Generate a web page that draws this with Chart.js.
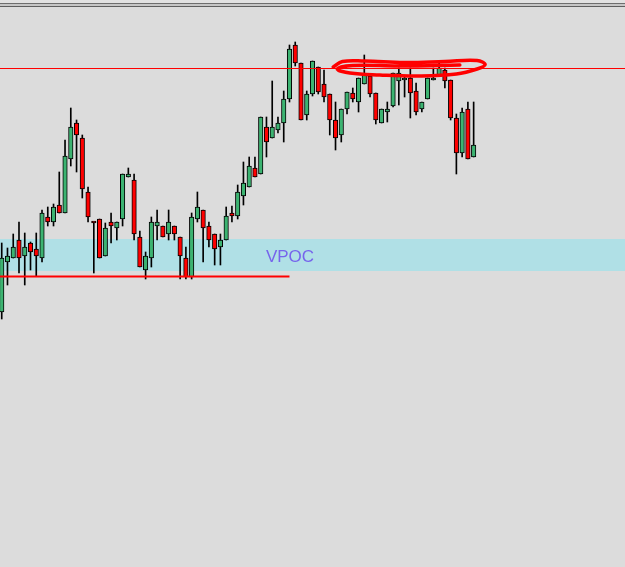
<!DOCTYPE html>
<html>
<head>
<meta charset="utf-8">
<title>VPOC</title>
<script src="https://cdn.jsdelivr.net/npm/chart.js@4.4.1/dist/chart.umd.min.js"></script>
<style>
    html, body { margin: 0; padding: 0; background: #dcdcdc; overflow: hidden; }
    #wrap { position: relative; width: 625px; height: 567px; }
    #frame {
        position: absolute; left: 0; top: 0; width: 625px; height: 7px;
        background: linear-gradient(to bottom, #e2e2e2 0 3px, #6e6e6e 3px 4px, #c6c6c6 4px 6px, #5e5e5e 6px 7px);
    }
</style>
</head>
<body>
<div id="wrap">
    <canvas id="chartCandles" width="625" height="567"></canvas>
    <div id="frame"></div>
</div>
<script>
//  Candles (price)

const opens = [18, 68, 72, 90, 74, 87, 81, 72, 113, 108, 125, 117, 171, 207, 192, 138, 108, 111, 74, 108,
    102, 111, 153, 150, 93, 60, 72, 104, 104, 96, 104, 93, 72, 53, 111, 120, 104, 96, 83, 90,
    117, 114, 134, 143, 162, 156, 203, 192, 200, 207, 231, 285, 267, 215, 236, 263, 246, 236, 210, 195,
    221, 237, 228, 246, 254, 237, 207, 218, 224, 249, 252, 252, 239, 221, 231, 250, 255, 260, 250, 212,
    177, 221, 173];
const highs = [87, 82, 96, 108, 97, 88, 97, 120, 123, 126, 158, 190, 222, 210, 195, 143, 108, 111, 107, 117,
    108, 156, 162, 156, 99, 78, 113, 120, 104, 120, 104, 93, 83, 117, 138, 120, 108, 96, 96, 123,
    124, 145, 168, 173, 173, 213, 213, 249, 213, 239, 285, 288, 267, 239, 269, 263, 260, 236, 228, 221,
    238, 242, 252, 275, 254, 237, 221, 228, 257, 262, 254, 262, 247, 228, 252, 262, 267, 262, 250, 216,
    222, 228, 228];
const lows = [11, 45, 72, 57, 45, 60, 54, 68, 104, 104, 117, 117, 164, 158, 132, 108, 57, 72, 74, 87,
    90, 104, 153, 90, 63, 51, 63, 90, 93, 90, 90, 51, 51, 51, 108, 68, 83, 65, 65, 90,
    108, 111, 125, 143, 153, 156, 173, 192, 197, 188, 228, 264, 210, 210, 234, 236, 228, 195, 180, 188,
    216, 228, 218, 246, 233, 206, 207, 208, 223, 225, 233, 212, 215, 218, 231, 250, 255, 242, 210, 156,
    173, 171, 173];
const closes = [72, 74, 83, 72, 83, 78, 74, 117, 108, 123, 117, 174, 203, 195, 141, 113, 107, 72, 102, 104,
    108, 156, 156, 96, 63, 74, 108, 108, 93, 108, 96, 74, 53, 113, 123, 102, 90, 81, 90, 114,
    114, 138, 147, 164, 153, 213, 188, 203, 207, 231, 281, 267, 210, 236, 269, 238, 233, 210, 192, 221,
    238, 231, 252, 255, 236, 210, 221, 221, 257, 257, 252, 237, 218, 228, 252, 252, 262, 249, 212, 177,
    218, 171, 185];

//  Levels

const resistanceLevel = 261.5;
const supportLevel = 53.5;
const supportEnd = 50;
const vpocZone = [59, 91];
const vpocLabel = "VPOC";
const vpocLabelAt = [45.9, 72.5];

//  Hand drawn loop round the highs

const loopX = [57.6, 59.2, 63.0, 70.0, 77.0, 82.6, 84.0, 82.6, 79.0, 72.7, 65.7, 60.5, 58.3, 61.0, 69.2, 79.6];
const loopY = [263, 268.5, 269, 267.5, 268.5, 269.5, 265.5, 261, 256, 254, 255, 257, 261, 264.5, 264, 265];

const xMin = -0.3;
const xMax = 108.3;

const candleIndex = opens.map((o, i) => i);
const wickData = candleIndex.map(i => ({ x: i, y: [lows[i], highs[i]] }));
const bodyData = candleIndex.map(i => ({ x: i, y: [opens[i], closes[i]] }));
const bodyColors = candleIndex.map(i => closes[i] >= opens[i] ? "rgb(60, 179, 113)" : "rgb(255, 0, 0)");
const loopData = loopX.map((x, i) => ({ x: x, y: loopY[i] }));

const vpocZonePlugin = {
    id: "vpocZone",
    beforeDatasetsDraw(chart) {
        const { ctx, chartArea, scales } = chart;
        const top = scales.y.getPixelForValue(vpocZone[1]);
        const bottom = scales.y.getPixelForValue(vpocZone[0]);
        ctx.save();
        ctx.fillStyle = "rgb(176, 224, 230)";
        ctx.fillRect(chartArea.left, top, chartArea.right - chartArea.left, bottom - top);
        ctx.font = '17px "Liberation Sans", Arial, sans-serif';
        ctx.fillStyle = "rgb(118, 100, 236)";
        ctx.textBaseline = "middle";
        ctx.fillText(vpocLabel, scales.x.getPixelForValue(vpocLabelAt[0]), scales.y.getPixelForValue(vpocLabelAt[1]));
        ctx.restore();
    }
};

const configCandles = {
    type: "bar",
    data: {
        datasets: [{
            label: "wicks",
            data: wickData,
            backgroundColor: "#000",
            barThickness: 1,
            grouped: false,
            order: 3,
        }, {
            label: "bodies",
            data: bodyData,
            backgroundColor: bodyColors,
            borderColor: "#000",
            borderWidth: 1,
            borderSkipped: false,
            barThickness: 4.5,
            minBarLength: 2,
            grouped: false,
            order: 2,
        }, {
            type: "line",
            label: "resistance",
            data: [{ x: xMin, y: resistanceLevel }, { x: xMax, y: resistanceLevel }],
            borderColor: "rgb(255, 0, 0)",
            borderWidth: 1,
            pointRadius: 0,
            order: 1,
        }, {
            type: "line",
            label: "support",
            data: [{ x: xMin, y: supportLevel }, { x: supportEnd, y: supportLevel }],
            borderColor: "rgb(255, 0, 0)",
            borderWidth: 2,
            pointRadius: 0,
            order: 1,
        }, {
            type: "line",
            label: "loop",
            data: loopData,
            borderColor: "rgb(255, 0, 0)",
            borderWidth: 3.5,
            borderCapStyle: "round",
            borderJoinStyle: "round",
            tension: 0.4,
            pointRadius: 0,
            order: 0,
        }],
    },
    options: {
        responsive: false,
        animation: false,
        layout: { padding: 0 },
        plugins: {
            legend: { display: false },
            tooltip: { enabled: false },
        },
        scales: {
            x: { type: "linear", min: xMin, max: xMax, offset: false, display: false },
            y: { min: -237, max: 330, display: false },
        },
    },
    plugins: [vpocZonePlugin],
};

var chartCandles = new Chart(
    document.getElementById("chartCandles"),
    configCandles
);
</script>
</body>
</html>
